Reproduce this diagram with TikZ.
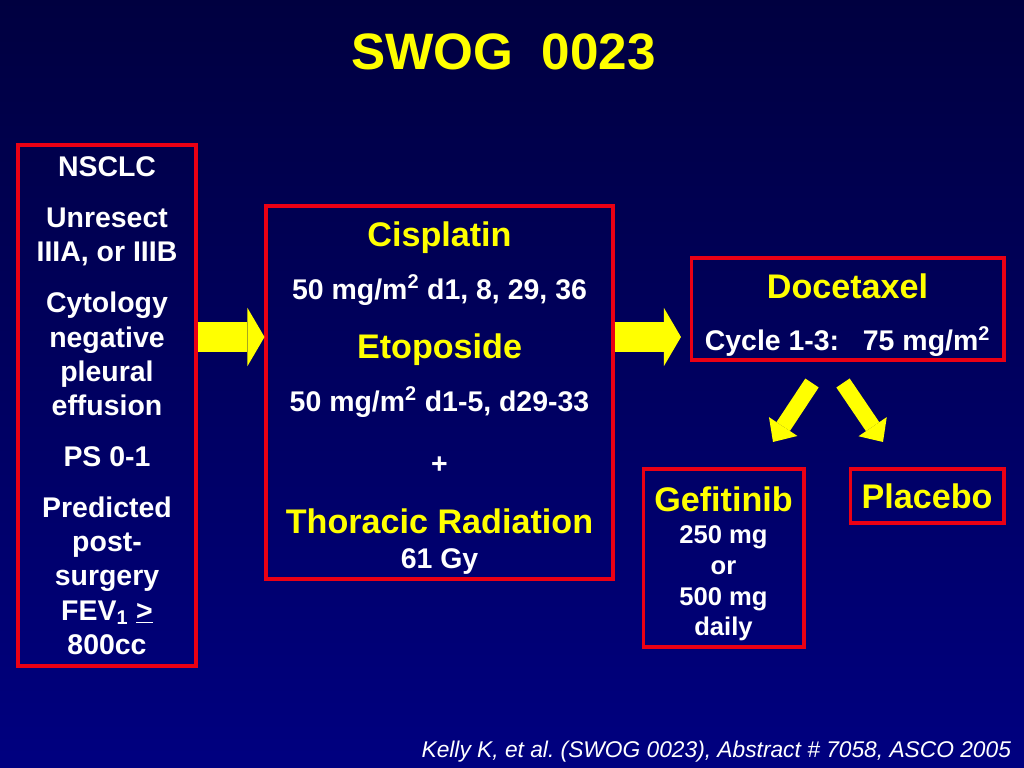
\documentclass[tikz,border=0pt]{standalone}
\usepackage{fontspec}
\setmainfont{Liberation Sans}
\usetikzlibrary{arrows.meta}

\definecolor{bgtop}{RGB}{0,0,64}
\definecolor{bgbot}{RGB}{0,0,128}
\definecolor{boxred}{RGB}{235,0,20}
\definecolor{swyellow}{RGB}{255,255,0}

\newcommand{\hd}[1]{{\color{swyellow}\fontsize{24}{24}\selectfont #1}}
\newcommand{\lift}[1]{\rule{0pt}{#1}}

\begin{document}
\begin{tikzpicture}[x=0.703125pt,y=-0.703125pt,
    box/.style={draw=boxred,line width=2.8pt,inner sep=0pt,align=center,
      text=white,font=\fontsize{20}{24}\selectfont\bfseries},
    fat/.style={draw=swyellow,line width=21pt,
      -{Triangle[length=12pt,width=41pt,line width=0pt]}},
    slim/.style={draw=swyellow,line width=11.3pt,
      -{Triangle[length=13pt,width=24pt,line width=0pt]}}]

  \useasboundingbox (0,0) rectangle (1024,768);
  \shade[top color=bgtop,bottom color=bgbot] (0,0) rectangle (1024,768);

  \node[anchor=base,text=swyellow,font=\fontsize{36}{43}\selectfont\bfseries]
    (title) at (503.5,70) {SWOG\ \ 0023};

  \node[box,minimum width=124.5pt,minimum height=367pt] (incl) at (107,405.5)
    {NSCLC\\[12pt]
     Unresect\\IIIA, or IIIB\\[12pt]
     Cytology\\negative\\pleural\\effusion\\[12pt]
     PS 0-1\\[12pt]
     Predicted\\post-\\surgery\\FEV\textsubscript{1} \underline{>}\\800cc};

  \node[box,minimum width=243.3pt,minimum height=261.6pt] (chemo) at (439.5,392.5)
    {\lift{25pt}\hd{Cisplatin}\\[13.3pt]
     50 mg/m\textsuperscript{2} d1, 8, 29, 36\\[17.5pt]
     \hd{Etoposide}\\[13.3pt]
     50 mg/m\textsuperscript{2} d1-5, d29-33\\[19.6pt]
     +\\[18.2pt]
     \hd{Thoracic Radiation}\\[0.6pt]
     61 Gy};

  \node[box,minimum width=219.4pt,minimum height=72.4pt] (doce) at (847.5,309)
    {\lift{26pt}\hd{Docetaxel}\\[13pt]
     Cycle 1-3:\ \ \ 75 mg/m\textsuperscript{2}};

  \node[box,minimum width=112.5pt,minimum height=124.5pt,
    font=\fontsize{18}{21.6}\selectfont\bfseries] (gefi) at (723.5,558)
    {\lift{25.5pt}\hd{Gefitinib}\\[1.4pt]
     250 mg\\or\\500 mg\\daily};

  \node[box,minimum width=107.6pt,minimum height=37.3pt] (plac) at (927,496)
    {\hd{Placebo}};

  \node[anchor=base east,text=white,font=\fontsize{16}{19}\selectfont\itshape]
    (cite) at (1016,757) {Kelly K, et al.\ (SWOG 0023), Abstract \# 7058, ASCO 2005};

  % block arrows
  \coordinate (mid) at (0,337);
  \draw[fat] (incl.east |- mid) -- (chemo.west |- mid);
  \draw[fat,shorten >=6pt] (chemo.east |- mid) -- (doce.west |- mid);

  \coordinate (dl) at ([shift={(-35.5,20.5)}]doce.south);
  \coordinate (dr) at ([shift={(-4.5,20.5)}]doce.south);
  \coordinate (gl) at ([shift={(49.5,-25.5)}]gefi.north);
  \coordinate (pr) at ([shift={(-44,-25.5)}]plac.north);
  \draw[slim] (dl) -- (gl);
  \draw[slim] (dr) -- (pr);

\end{tikzpicture}
\end{document}
